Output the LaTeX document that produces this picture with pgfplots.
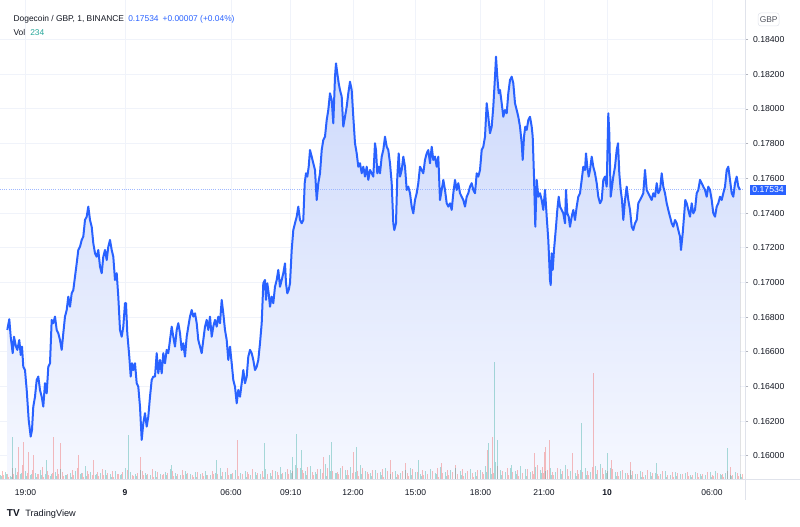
\documentclass[border=0pt]{standalone}
\usepackage{pgfplots}
\pgfplotsset{compat=1.18}
\usepgfplotslibrary{fillbetween}
\usepackage{pgfplotstable}
\usepackage{fontspec}
\setmainfont{Liberation Sans}
\definecolor{tvblue}{RGB}{41,98,255}
\definecolor{tvtext}{RGB}{19,23,34}
\definecolor{tvgray}{RGB}{80,83,94}
\definecolor{gridc}{RGB}{240,243,250}
\definecolor{sepc}{RGB}{224,227,235}
\definecolor{tickc}{RGB}{178,181,190}
\definecolor{vgreen}{RGB}{38,166,154}
\definecolor{vred}{RGB}{239,83,80}
\definecolor{areatop}{RGB}{205,217,251}
\definecolor{areabot}{RGB}{246,248,255}
\pgfplotstableread{
x y
7.3 0.16726
9.3 0.16788
10.7 0.16687
12.7 0.16592
14 0.16687
16 0.16630
17.3 0.16611
19.3 0.16668
20.7 0.16582
22 0.16630
23.3 0.16514
25 0.16495
26.7 0.16380
28.7 0.16207
30.7 0.16111
32 0.16150
33.3 0.16284
35 0.16341
36.7 0.16438
38.3 0.16457
40 0.16380
41.7 0.16341
43.3 0.16284
45 0.16419
46.7 0.16361
48.3 0.16514
50 0.16534
51.7 0.16784
53.3 0.16765
55 0.16803
56.7 0.16726
58.3 0.16707
60 0.16668
61.7 0.16611
63.3 0.16707
65 0.16803
66.7 0.16841
68.3 0.16918
70 0.16860
71.7 0.16937
73.3 0.16956
75 0.17033
76.7 0.17110
78.3 0.17187
80 0.17206
81.7 0.17245
83.3 0.17264
85 0.17360
86.7 0.17379
88.3 0.17437
90 0.17360
91.7 0.17321
93.3 0.17226
95 0.17168
96.7 0.17148
98.3 0.17187
100 0.17091
101.7 0.17053
103.3 0.17148
105 0.17187
106.7 0.17129
108.3 0.17206
110 0.17245
111.7 0.17187
113.3 0.17148
115 0.17014
116.7 0.17053
118.3 0.16918
120 0.16726
121.7 0.16687
123.3 0.16745
125 0.16880
126 0.16880
127.3 0.16707
129.3 0.16572
130.7 0.16457
132 0.16534
133.3 0.16495
135 0.16534
136.7 0.16419
138.3 0.16399
140 0.16284
141.7 0.16092
143.3 0.16188
145 0.16246
146.7 0.16169
148.3 0.16226
150 0.16341
151.7 0.16438
153.3 0.16457
155 0.16457
156.7 0.16592
158.3 0.16476
160 0.16553
161.7 0.16476
163.3 0.16592
165 0.16534
166.7 0.16611
168.3 0.16592
170 0.16668
171.7 0.16745
173.3 0.16687
175 0.16630
176.7 0.16726
178.3 0.16765
180 0.16707
181.7 0.16611
183.3 0.16649
185 0.16572
186.7 0.16687
188.3 0.16745
190 0.16803
191.7 0.16841
193.3 0.16803
195 0.16822
196.7 0.16765
198.3 0.16668
200 0.16630
201.7 0.16592
203.3 0.16668
205 0.16745
206.7 0.16784
208.3 0.16726
210 0.16803
211.7 0.16687
213.3 0.16745
215 0.16784
216.7 0.16745
218.3 0.16803
220 0.16765
221.7 0.16899
223.3 0.16822
225 0.16726
226.7 0.16668
228.3 0.16553
230 0.16630
231.7 0.16534
233.3 0.16438
235 0.16399
236.7 0.16303
238.3 0.16380
240 0.16341
241.7 0.16419
243.3 0.16495
245 0.16419
246.7 0.16457
248.3 0.16572
250 0.16611
251.7 0.16592
253.3 0.16553
255 0.16495
256.7 0.16514
258.3 0.16553
260 0.16649
261.7 0.16765
263.3 0.16995
265 0.17014
266 0.16899
267.3 0.16995
268.7 0.16937
270 0.16860
271.7 0.16918
273.3 0.16880
275 0.16975
276.7 0.17014
278.3 0.17072
280 0.16975
281.7 0.17014
283.3 0.17053
285 0.17110
286 0.16995
287.3 0.16937
288.7 0.16956
290 0.16995
291.7 0.17187
293.3 0.17302
295 0.17341
296.7 0.17379
298.3 0.17437
300 0.17360
301.7 0.17341
303.3 0.17360
304.7 0.17572
306 0.17629
307.3 0.17610
308.7 0.17667
310 0.17763
311.7 0.17725
313.3 0.17687
315 0.17648
316.7 0.17475
318.3 0.17572
320 0.17629
321.7 0.17763
323.3 0.17821
325 0.17840
326.7 0.17936
328.3 0.17994
330 0.18090
331.7 0.18052
333.3 0.17917
335 0.18186
336 0.18263
337.3 0.18206
338.7 0.18148
340 0.18109
341.7 0.18071
343.3 0.17898
345 0.17955
346.7 0.18013
348.3 0.18090
350 0.18157
351.7 0.18109
353.3 0.17955
355 0.17802
356.7 0.17744
358.3 0.17667
360 0.17687
361.7 0.17629
363.3 0.17667
365 0.17610
366.7 0.17667
368.3 0.17591
370 0.17648
371.7 0.17629
373.3 0.17610
375 0.17802
376 0.17763
377.3 0.17629
378.7 0.17667
380 0.17629
381.7 0.17725
383.3 0.17763
385 0.17840
386.7 0.17782
388.3 0.17763
390 0.17687
391.7 0.17572
393.3 0.17341
394.3 0.17302
396 0.17341
397.3 0.17610
398.7 0.17744
400 0.17610
401.7 0.17648
403.3 0.17725
405 0.17667
406.7 0.17533
408.3 0.17552
410 0.17514
411.7 0.17437
413.3 0.17398
415 0.17475
416.7 0.17514
418.3 0.17572
420 0.17667
421.7 0.17648
423.3 0.17629
425 0.17706
426.7 0.17744
428.3 0.17763
430 0.17687
431.7 0.17782
433.3 0.17706
435 0.17725
436.7 0.17667
438.3 0.17725
440 0.17475
441.7 0.17533
443.3 0.17591
445 0.17533
446.7 0.17456
448.3 0.17437
450 0.17456
451.7 0.17418
453.3 0.17514
455 0.17591
456.7 0.17533
458.3 0.17572
460 0.17514
461.7 0.17494
463.3 0.17475
465 0.17437
466.7 0.17494
468.3 0.17514
470 0.17552
471.7 0.17572
473.3 0.17533
475 0.17514
476.7 0.17629
478.3 0.17610
480 0.17648
481.7 0.17763
483.3 0.17782
485 0.17840
486.7 0.18033
488.3 0.17955
490 0.17860
491.7 0.17898
493.3 0.18013
495 0.18186
496 0.18301
497.3 0.18186
498.7 0.18090
500 0.18109
501.7 0.18033
503.3 0.17955
505 0.17994
506.7 0.17975
508.3 0.18090
510 0.18167
511.7 0.18186
513.3 0.18148
515 0.18033
516.7 0.17994
518.3 0.17955
520 0.17898
521.7 0.17802
522.7 0.17706
524 0.17840
525.3 0.17898
526.7 0.17879
528.3 0.17936
530 0.17955
531.7 0.17898
532.7 0.17840
534 0.17610
535.3 0.17321
536.7 0.17591
538.3 0.17494
540 0.17514
541.7 0.17475
543.3 0.17418
545 0.17533
546.7 0.17379
548.3 0.17245
550 0.17014
550.7 0.16985
551.7 0.17168
552.7 0.17072
554 0.17187
556 0.17321
557.3 0.17418
558.7 0.17494
560 0.17437
561.7 0.17418
563.3 0.17398
565 0.17341
566 0.17533
567.3 0.17398
568.7 0.17379
570 0.17321
571.7 0.17379
573.3 0.17418
575 0.17360
576.7 0.17437
578.3 0.17494
580 0.17514
581.7 0.17591
583.3 0.17667
585 0.17648
586 0.17744
587.3 0.17667
588.7 0.17610
590 0.17648
591.7 0.17725
593.3 0.17667
595 0.17629
596.7 0.17572
598.3 0.17494
600 0.17456
601.7 0.17475
603.3 0.17591
605 0.17610
606.7 0.17552
608.3 0.17975
609.3 0.17860
610.7 0.17494
612 0.17552
613.3 0.17610
615 0.17667
616.7 0.17763
618 0.17802
619.3 0.17629
620.7 0.17533
622 0.17475
623.3 0.17360
625 0.17475
626.7 0.17552
628.3 0.17475
630 0.17418
631.7 0.17321
633.3 0.17302
635 0.17341
636.7 0.17360
638.3 0.17456
640 0.17475
641.7 0.17494
643.3 0.17514
645 0.17648
646.7 0.17533
648.3 0.17514
650 0.17494
651.7 0.17475
653.3 0.17514
655 0.17494
656.7 0.17572
658.3 0.17514
660 0.17533
661.7 0.17629
663.3 0.17552
665 0.17514
666.7 0.17456
668.3 0.17418
670 0.17379
671.7 0.17341
673.3 0.17321
675 0.17360
676.7 0.17341
678.3 0.17302
680 0.17264
681 0.17187
682.7 0.17283
684 0.17379
685.3 0.17475
686.7 0.17456
688.3 0.17418
690 0.17379
691.7 0.17456
693.3 0.17398
695 0.17418
696.7 0.17514
698.3 0.17533
700 0.17591
701.7 0.17572
703.3 0.17552
705 0.17533
706.7 0.17494
708.3 0.17552
710 0.17533
711.7 0.17475
713.3 0.17398
715 0.17379
716.7 0.17437
718.3 0.17456
720 0.17494
721.7 0.17475
723.3 0.17514
725 0.17552
726.7 0.17648
728.3 0.17667
730 0.17591
731.7 0.17514
733.3 0.17494
735 0.17572
736.7 0.17610
738.3 0.17552
740 0.17534
}\pricedata
\pgfplotstableread{
x h
0 5
5 8
10 4
15 12
20 6
25 9
30 5
35 7
40 10
45 6
50 4
55 8
60 11
65 5
70 7
75 9
80 6
85 14
90 8
95 5
100 7
105 10
110 6
115 9
120 5
125 12
130 8
135 6
140 10
145 7
150 5
155 9
160 6
165 8
170 11
175 7
180 5
185 9
190 6
195 8
200 6
205 9
210 5
215 7
220 12
225 8
230 6
235 10
240 7
245 9
250 5
255 8
260 6
265 11
270 7
275 9
280 13
285 8
290 10
295 15
300 12
305 9
310 14
315 8
320 11
325 16
330 9
335 7
340 12
345 10
350 13
355 8
360 15
365 9
370 7
375 10
380 8
385 12
390 6
395 9
400 7
405 10
410 12
415 8
420 6
425 9
430 11
435 7
440 13
445 8
450 10
455 12
460 9
465 7
470 11
475 8
480 10
485 14
490 12
495 18
500 10
505 8
510 12
515 9
520 14
525 11
530 8
535 13
540 10
545 9
550 12
555 8
560 11
565 15
570 9
575 7
580 10
585 12
590 8
595 14
600 16
605 10
610 12
615 8
620 9
625 7
630 10
635 6
640 9
645 5
650 8
655 7
660 6
665 9
670 5
675 8
680 6
685 7
690 5
695 8
700 6
705 5
710 8
715 9
720 6
725 7
730 5
735 8
740 6
1.3 4
6.3 6
11.3 3
16.3 5
21.3 7
26.3 4
31.3 6
36.3 3
41.3 5
51.3 6
56.3 4
66.3 5
71.3 3
81.3 7
86.3 4
96.3 6
106.3 5
111.3 3
121.3 6
136.3 4
146.3 5
156.3 3
166.3 5
176.3 4
186.3 6
196.3 3
206.3 5
221.3 4
231.3 6
246.3 3
256.3 5
271.3 4
281.3 6
291.3 7
306.3 5
316.3 6
326.3 4
336.3 7
346.3 5
361.3 6
371.3 4
381.3 5
396.3 3
411.3 5
421.3 4
436.3 6
446.3 4
461.3 5
476.3 4
486.3 8
491.3 6
501.3 5
516.3 6
526.3 4
541.3 7
551.3 5
561.3 6
576.3 4
586.3 5
596.3 6
606.3 7
616.3 4
631.3 5
641.3 3
651.3 4
666.3 3
676.3 4
691.3 3
701.3 4
711.3 3
721.3 5
731.3 4
741.3 3
12 43
46 20
128 45
171 15
216 20
264 37
292 23
296 46
301 30
329 25
331 38
356 33
418 20
488 37
494 118
497 40
511 15
581 57
607 27
656 17
727 32
}\volgreen
\pgfplotstableread{
x h
2.5 9
7.5 6
12.5 12
17.5 8
22.5 15
27.5 7
32.5 10
37.5 6
42.5 13
47.5 9
52.5 7
57.5 11
62.5 8
67.5 6
72.5 10
77.5 12
82.5 7
87.5 9
92.5 5
97.5 8
102.5 11
107.5 7
112.5 9
117.5 6
122.5 8
127.5 10
132.5 5
137.5 7
142.5 9
147.5 6
152.5 11
157.5 8
162.5 5
167.5 7
172.5 9
177.5 6
182.5 10
187.5 7
192.5 5
197.5 8
202.5 7
207.5 5
212.5 9
217.5 6
222.5 8
227.5 12
232.5 7
237.5 10
242.5 6
247.5 8
252.5 11
257.5 7
262.5 9
267.5 6
272.5 10
277.5 8
282.5 7
287.5 11
292.5 9
297.5 12
302.5 10
307.5 13
312.5 8
317.5 11
322.5 7
327.5 12
332.5 9
337.5 8
342.5 14
347.5 10
352.5 7
357.5 9
362.5 12
367.5 8
372.5 10
377.5 7
382.5 11
387.5 9
392.5 8
397.5 6
402.5 9
407.5 7
412.5 11
417.5 8
422.5 10
427.5 6
432.5 9
437.5 12
442.5 7
447.5 10
452.5 8
457.5 6
462.5 11
467.5 9
472.5 7
477.5 10
482.5 8
487.5 12
492.5 9
497.5 14
502.5 9
507.5 12
512.5 8
517.5 10
522.5 7
527.5 11
532.5 9
537.5 15
542.5 13
547.5 10
552.5 8
557.5 12
562.5 9
567.5 11
572.5 7
577.5 10
582.5 8
587.5 9
592.5 13
597.5 10
602.5 12
607.5 9
612.5 11
617.5 8
622.5 10
627.5 7
632.5 9
637.5 6
642.5 8
647.5 10
652.5 7
657.5 6
662.5 9
667.5 5
672.5 8
677.5 7
682.5 6
687.5 8
692.5 5
697.5 7
702.5 6
707.5 8
712.5 5
717.5 7
722.5 6
727.5 9
732.5 5
737.5 7
742.5 6
3.8 5
8.8 3
13.8 6
18.8 4
23.8 7
28.8 5
33.8 4
38.8 6
43.8 3
48.8 5
58.8 6
63.8 4
73.8 5
83.8 3
88.8 6
98.8 4
103.8 5
113.8 3
118.8 6
133.8 4
143.8 5
153.8 3
163.8 6
173.8 4
183.8 5
193.8 3
203.8 4
213.8 6
228.8 5
238.8 4
248.8 6
263.8 3
278.8 5
288.8 6
303.8 7
313.8 5
323.8 4
338.8 6
348.8 5
358.8 4
368.8 6
383.8 3
398.8 5
408.8 4
423.8 5
438.8 3
448.8 5
463.8 4
473.8 3
483.8 6
493.8 7
508.8 5
518.8 4
533.8 6
543.8 7
553.8 5
568.8 4
578.8 6
588.8 5
603.8 6
618.8 4
628.8 5
643.8 3
658.8 4
673.8 3
688.8 4
698.8 3
713.8 4
723.8 3
738.8 4
18 33
23 38
28 28
33 25
53 43
60 37
78 25
93 20
140 23
237 40
323 23
353 28
390 20
405 17
441 17
455 15
487 30
492 43
534 27
544 28
545 33
549 40
572 27
593 107
611 20
630 18
730 13
}\volred
\begin{document}
\begin{tikzpicture}
\pgfplotsset{tvaxis/.style={at={(0,0)},anchor=south west,width=558.75pt,height=360pt,scale only axis,xmin=0,xmax=745}}
% axis 1: grid, ticks, area
\begin{axis}[tvaxis, ymin=0.15861, ymax=0.18628,
  axis line style={draw=none},
  xtick={25.5,125,231,290.8,353,415.5,480.5,544,607.2,712},
  xticklabels={19:00,\textbf{9},06:00,09:10,12:00,15:00,18:00,21:00,\textbf{10},06:00},
  xmajorgrids, ymajorgrids, grid style={gridc, line width=0.75pt},
  ytick={0.160,0.162,0.164,0.166,0.168,0.170,0.172,0.174,0.176,0.178,0.180,0.182,0.184},
  scaled y ticks=false,
  ytick pos=right, yticklabel pos=right, xtick pos=bottom,
  /pgf/number format/assume math mode=true,
  yticklabel style={/pgf/number format/fixed,/pgf/number format/fixed zerofill,/pgf/number format/precision=5,font=\fontsize{6.5}{7.8}\selectfont,text=tvtext},
  xticklabel style={font=\fontsize{6.4}{7.7}\selectfont,text=tvtext,yshift=-1pt},
  xtick style={draw=none},
  ytick style={draw=tickc,line width=0.6pt},
  tick align=outside, major tick length=2.5pt,
]
\addplot[draw=none, name path=P] table[x=x,y=y] {\pricedata};
\addplot[draw=none, name path=B] coordinates {(7.3,0.15861) (740,0.15861)};
\addplot[top color=areatop, bottom color=areabot, draw=none] fill between[of=P and B];
\end{axis}
% axis 2: volume
\begin{axis}[tvaxis, ymin=0, ymax=480, hide axis]
\addplot[ycomb, draw=vred, line width=0.75pt, opacity=0.38] table[x=x,y=h] {\volred};
\addplot[ycomb, draw=vgreen, line width=0.75pt, opacity=0.38] table[x=x,y=h] {\volgreen};
\end{axis}
% axis 3: price line
\begin{axis}[tvaxis, ymin=0.15861, ymax=0.18628, hide axis, clip=false]
\addplot[densely dotted, color=tvblue!45, line width=0.6pt] coordinates {(0,0.17534) (745,0.17534)};
\addplot[color=tvblue, line width=1.5pt, line join=round] table[x=x,y=y] {\pricedata};
\node[fill=tvblue, text=white, anchor=west, inner sep=1.6pt, font=\fontsize{6.5}{7.8}\selectfont] at (axis cs:750,0.17534) {0.17534};
\end{axis}
% separators
\draw[sepc, line width=0.75pt] (0,0) -- (600pt,0);
\draw[sepc, line width=0.75pt] (558.75pt,360pt) -- (558.75pt,-15pt);
% header
\node[anchor=base west, inner sep=0, text=tvtext, font=\fontsize{6.3}{7.5}\selectfont] at (10pt,343.5pt) {Dogecoin / GBP, 1, BINANCE};
\node[anchor=base west, inner sep=0, text=tvblue, font=\fontsize{6.3}{7.5}\selectfont] at (96pt,343.5pt) {0.17534\hspace{3pt}+0.00007 (+0.04\%)};
\node[anchor=base west, inner sep=0, text=tvtext, font=\fontsize{6.3}{7.5}\selectfont] at (10pt,333.2pt) {Vol};
\node[anchor=base west, inner sep=0, text=vgreen, font=\fontsize{6.3}{7.5}\selectfont] at (22.5pt,333.2pt) {234};
\node[draw=sepc, rounded corners=2pt, text=tvgray, font=\fontsize{6.3}{7.5}\selectfont, minimum width=15.75pt, minimum height=9.75pt, inner sep=0] at (576.5pt,345.4pt) {GBP};
% footer
\node[anchor=base west, inner sep=0, text=tvtext, font=\bfseries\fontsize{7.5}{9}\selectfont] at (5pt,-27.75pt) {TV};
\node[anchor=base west, inner sep=0, text=tvtext, font=\fontsize{6.9}{8.3}\selectfont] at (18.75pt,-27.75pt) {TradingView};
\pgfresetboundingbox
\useasboundingbox (0,-35.25pt) rectangle (600pt,360pt);
\end{tikzpicture}
\end{document}
